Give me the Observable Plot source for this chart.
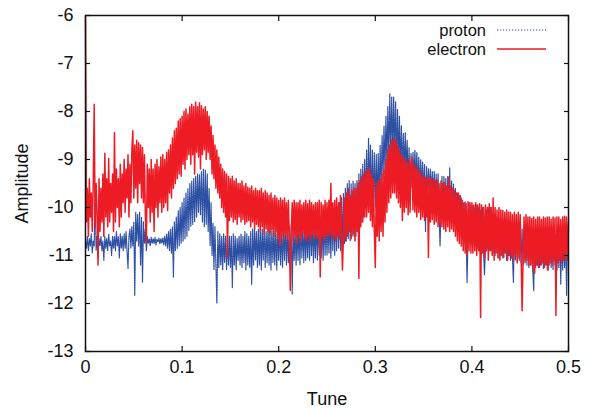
<!DOCTYPE html>
<html><head><meta charset="utf-8">
<script src="https://cdn.jsdelivr.net/npm/d3@7"></script>
<script src="https://cdn.jsdelivr.net/npm/@observablehq/plot@0.6"></script>
<style>
body{margin:0;background:#fff;}
#wrap{position:relative;width:594px;height:408px;}
</style></head><body><div id="wrap"></div>
<script>
// sampling grid of the spectra (tune step between samples)
const tuneStep = 0.001;

// electron amplitude, one value per sample, tune 0.000 .. 0.500
const electron = [
-6.1,-10.3,-9.6,-10.6,-9.4,-10.2,-9.7,-10.5,-9.5,-7.85,
-10.4,-9.5,-10.1,-11.2,-9.4,-10.5,-9.6,-10.3,-9.3,-10.6,
-8.87,-10.2,-9.4,-10.4,-8.98,-10.3,-9.5,-10.1,-9.3,-10.5,
-8.44,-10.3,-9.2,-10.0,-9.4,-10.4,-9.1,-10.2,-9.3,-9.9,
-9.0,-10.1,-9.2,-9.8,-8.9,-10.2,-9.1,-9.9,-8.8,-8.4,
-9.8,-8.7,-9.6,-8.6,-9.9,-8.65,-9.5,-8.7,-9.8,-8.75,
-9.9,-8.9,-10.2,-10.75,-9.1,-10.0,-9.2,-10.3,-9.0,-10.1,
-9.2,-10.5,-9.1,-10.0,-9.0,-10.2,-9.15,-9.9,-8.95,-10.1,
-8.9,-10.0,-9.0,-9.9,-8.85,-10.06,-8.8,-9.7,-8.7,-9.8,
-8.55,-9.6,-8.4,-9.5,-8.35,-9.4,-8.2,-9.3,-8.15,-9.35,
-8.1,-9.1,-8.0,-9.2,-7.95,-9.0,-8.05,-8.9,-7.9,-9.1,
-7.85,-8.9,-7.9,-9.3,-7.8,-8.85,-7.9,-8.95,-7.82,-9.2,
-7.88,-8.9,-7.95,-8.8,-7.9,-9.0,-8.0,-8.85,-8.1,-9.0,
-8.3,-9.3,-8.5,-9.4,-8.7,-9.6,-8.8,-9.7,-8.95,-9.8,
-9.1,-10.0,-9.2,-10.1,-9.25,-10.2,-9.3,-11.04,-9.35,-10.27,
-9.4,-10.2,-9.35,-10.3,-9.45,-10.25,-9.4,-10.35,-9.5,-10.2,
-9.5,-10.3,-9.45,-10.25,-9.55,-10.35,-9.5,-10.3,-9.58,-10.27,
-9.6,-10.4,-9.55,-10.3,-9.65,-10.45,-9.6,-10.35,-9.65,-10.4,
-9.65,-10.5,-9.6,-10.4,-9.7,-10.55,-9.65,-10.45,-9.7,-10.5,
-9.75,-10.55,-9.7,-10.45,-9.8,-10.6,-9.75,-10.5,-9.8,-10.65,
-9.85,-10.8,-9.8,-10.6,-9.85,-10.7,-9.8,-10.55,-9.9,-10.65,
-9.85,-10.6,-11.73,-10.5,-9.9,-10.7,-9.85,-10.6,-9.9,-10.75,
-9.9,-10.6,-9.85,-10.7,-9.95,-10.55,-9.9,-10.65,-9.85,-10.7,
-9.92,-10.6,-9.85,-10.7,-9.9,-10.55,-9.95,-10.65,-9.9,-10.6,
-9.9,-10.65,-9.85,-11.45,-9.9,-10.6,-9.95,-10.7,-9.85,-10.6,
-9.9,-10.6,-9.85,-10.55,-9.5,-10.65,-9.9,-10.6,-9.85,-10.7,
-9.8,-10.6,-9.9,-10.65,-9.75,-10.5,-11.3,-10.6,-9.8,-10.7,
-9.7,-10.6,-9.6,-10.5,-9.75,-10.65,-9.65,-10.55,-9.6,-10.7,
-9.6,-10.5,-9.5,-11.48,-9.45,-10.4,-9.35,-10.3,-9.3,-10.2,
-9.25,-10.2,-9.2,-10.1,-9.17,-10.27,-9.3,-10.4,-9.4,-10.5,
-11.25,-9.5,-10.6,-9.45,-10.7,-9.4,-10.5,-9.3,-10.6,-9.2,
-10.3,-9.0,-10.1,-8.8,-9.9,-8.7,-9.8,-8.6,-9.7,-8.54,
-9.7,-8.6,-9.8,-8.7,-9.9,-8.8,-10.0,-8.9,-10.27,-8.95,
-10.1,-9.0,-10.0,-9.05,-10.15,-9.0,-10.1,-9.1,-8.95,-10.05,
-9.1,-10.1,-9.15,-10.2,-9.2,-10.1,-9.25,-10.25,-9.3,-10.2,
-9.35,-10.27,-9.37,-10.2,-9.4,-11.04,-9.35,-10.3,-9.4,-10.25,
-9.4,-10.35,-9.45,-10.3,-9.42,-10.4,-9.5,-10.35,-9.45,-10.4,
-9.5,-10.45,-9.48,-10.5,-9.55,-10.4,-9.37,-10.5,-9.55,-10.45,
-9.6,-10.5,-9.65,-10.6,-9.7,-10.7,-9.7,-10.75,-9.75,-10.8,
-9.85,-10.9,-9.9,-10.95,-9.92,-11.0,-9.88,-10.9,-9.9,-10.95,
-9.9,-10.95,-9.95,-10.9,-9.9,-11.0,-9.95,-10.9,-9.92,-12.29,
-9.95,-10.95,-10.0,-11.05,-9.95,-10.9,-10.0,-11.1,-9.92,-10.9,
-10.0,-11.0,-9.8,-11.1,-10.0,-10.95,-10.05,-11.05,-10.0,-11.1,
-10.05,-11.0,-10.06,-11.04,-10.1,-10.95,-10.05,-11.1,-10.1,-11.0,
-10.1,-11.05,-10.15,-11.1,-10.1,-11.0,-10.15,-11.15,-10.1,-11.05,
-10.15,-11.1,-12.15,-11.05,-10.2,-11.15,-10.15,-11.1,-10.2,-11.2,
-10.2,-11.2,-10.23,-11.3,-10.2,-11.37,-10.25,-11.2,-10.2,-11.25,
-10.2,-11.2,-10.25,-11.15,-10.2,-11.25,-10.22,-11.2,-10.2,-11.3,
-10.2,-11.15,-10.25,-11.2,-10.2,-11.1,-10.22,-12.25,-10.2,-11.15,
-10.2,-11.1,-10.25,-11.15,-10.2,-11.1,-10.18,-11.05,-10.2,-11.1,
-10.3
];

// proton amplitude, one value per sample, tune 0.000 .. 0.500
const proton = [
-10.7,-10.85,-10.6,-10.9,-10.65,-10.8,-10.55,-10.95,-10.7,-10.8,
-9.54,-10.9,-10.6,-11.05,-10.65,-10.8,-10.6,-10.9,-10.7,-11.1,
-10.6,-10.85,-10.65,-10.9,-10.55,-10.8,-10.7,-11.0,-10.6,-10.85,
-10.6,-10.9,-10.5,-10.8,-10.6,-11.05,-10.55,-10.85,-10.6,-10.9,
-10.55,-10.85,-10.5,-10.9,-11.27,-10.6,-10.45,-10.85,-10.4,-10.8,
-10.3,-11.83,-10.1,-10.7,-10.15,-10.8,-10.1,-11.2,-10.2,-11.56,
-10.3,-10.75,-10.45,-10.9,-10.6,-10.75,-10.65,-10.8,-10.62,-10.75,
-10.65,-10.75,-10.62,-10.78,-10.66,-10.72,-10.64,-10.76,-10.65,-10.74,
-10.63,-10.78,-10.6,-10.8,-10.55,-10.85,-10.5,-10.9,-10.45,-10.95,
-10.4,-11.45,-10.3,-10.9,-10.2,-10.85,-10.06,-10.8,-10.0,-10.75,
-9.9,-10.7,-9.8,-10.65,-9.7,-10.6,-9.6,-10.48,-9.5,-10.4,
-9.45,-10.35,-9.4,-10.3,-9.35,-10.2,-9.3,-10.1,-9.32,-10.15,
-9.25,-10.3,-9.19,-10.4,-9.22,-10.35,-9.3,-10.5,-9.6,-10.8,
-9.9,-11.0,-10.33,-11.3,-10.4,-11.2,-12.0,-10.5,-11.25,-10.55,
-11.2,-10.6,-11.3,-10.55,-11.15,-10.6,-11.3,-10.65,-11.2,-10.6,
-11.25,-10.6,-11.67,-10.55,-11.2,-10.6,-11.3,-10.65,-11.1,-10.6,
-11.2,-10.55,-11.25,-10.6,-11.15,-10.5,-11.3,-10.55,-11.2,-10.6,
-11.25,-10.5,-11.6,-10.45,-11.2,-10.4,-11.1,-10.5,-11.25,-10.45,
-11.2,-10.4,-11.3,-10.45,-11.1,-10.4,-11.25,-10.5,-11.15,-10.4,
-11.2,-10.45,-11.3,-10.4,-11.15,-10.5,-11.2,-10.4,-11.3,-10.45,
-11.1,-10.4,-11.2,-10.45,-11.25,-10.4,-11.1,-10.35,-11.2,-10.45,
-11.15,-10.4,-11.2,-10.35,-11.8,-10.4,-11.1,-10.45,-11.2,-10.4,
-11.1,-10.35,-11.2,-10.3,-11.05,-10.4,-11.15,-10.3,-11.1,-10.35,
-11.05,-10.3,-11.1,-10.27,-11.0,-10.35,-11.15,-10.3,-11.05,-10.25,
-11.1,-10.3,-11.0,-10.25,-11.05,-10.3,-11.1,-10.2,-11.0,-10.3,
-11.0,-10.25,-10.95,-10.2,-11.05,-10.15,-10.9,-10.1,-11.0,-10.05,
-10.9,-10.0,-10.85,-9.9,-10.9,-9.8,-10.8,-9.7,-10.75,-9.6,
-10.7,-9.5,-10.65,-9.44,-10.7,-9.5,-10.6,-9.45,-10.6,-9.5,
-10.6,-9.44,-10.5,-9.3,-10.4,-9.2,-10.3,-9.1,-10.2,-9.0,
-10.0,-8.8,-9.9,-8.56,-9.8,-8.7,-9.9,-8.8,-10.0,-8.85,
-10.0,-8.9,-9.95,-8.87,-9.8,-8.7,-9.6,-8.5,-9.4,-8.3,
-9.3,-8.1,-9.1,-7.9,-9.0,-7.63,-8.9,-7.7,-8.88,-7.7,
-8.9,-7.8,-9.0,-7.95,-9.1,-8.1,-9.2,-8.3,-9.23,-8.46,
-9.23,-8.44,-9.3,-8.6,-9.5,-8.75,-9.8,-8.87,-9.6,-8.85,
-9.44,-8.8,-9.5,-8.85,-9.55,-8.95,-9.6,-9.0,-9.65,-9.05,
-9.7,-9.1,-10.5,-9.15,-9.7,-9.19,-9.75,-9.2,-9.7,-9.25,
-9.8,-9.25,-9.9,-9.3,-10.0,-9.3,-10.1,-10.8,-10.1,-9.35,
-10.2,-9.35,-10.25,-9.4,-10.2,-9.35,-10.27,-9.17,-10.2,-9.45,
-10.3,-9.5,-10.35,-9.6,-10.4,-9.7,-10.5,-9.75,-10.55,-9.8,
-10.6,-9.9,-10.55,-9.88,-10.6,-11.56,-10.6,-9.9,-10.65,-9.95,
-10.7,-9.95,-10.75,-10.0,-10.8,-9.95,-10.85,-10.0,-10.8,-10.05,
-10.9,-10.0,-10.85,-11.4,-10.9,-10.05,-10.85,-10.0,-10.9,-10.0,
-10.9,-10.3,-10.95,-10.25,-11.0,-10.3,-10.95,-10.35,-11.05,-10.3,
-11.0,-10.35,-11.05,-10.4,-10.95,-10.35,-11.1,-10.4,-11.0,-10.45,
-11.1,-10.4,-11.05,-11.56,-10.45,-11.1,-10.4,-11.15,-10.45,-11.1,
-10.5,-11.15,-10.45,-11.2,-10.5,-11.1,-10.45,-11.2,-10.5,-11.25,
-10.5,-11.2,-10.55,-11.3,-11.73,-10.5,-11.25,-10.55,-11.2,-10.5,
-11.25,-10.55,-11.2,-10.5,-11.27,-10.55,-11.2,-10.5,-11.3,-10.55,
-11.2,-10.5,-11.25,-10.55,-11.3,-10.5,-11.2,-10.55,-11.3,-10.5,
-11.25,-10.55,-11.6,-10.5,-11.3,-10.55,-11.25,-10.5,-11.83,-10.6,
-11.1
];

const xTicks = [0, 0.1, 0.2, 0.3, 0.4, 0.5];
const yTicks = [-13, -12, -11, -10, -9, -8, -7, -6];
const seriesNames = ["proton", "electron"];
const seriesColors = ["#2c4fa3", "#ed1c24"];

const protonData = proton.map((v, i) => ({tune: i * tuneStep, amp: v}));
const electronData = electron.map((v, i) => ({tune: i * tuneStep, amp: v}));

const font = "'Liberation Sans', Arial, Helvetica, sans-serif";
const fmt = d => String(d);

const chart = Plot.plot({
  width: 594,
  height: 408,
  marginLeft: 85,
  marginRight: 26,
  marginTop: 15,
  marginBottom: 57,
  style: {fontFamily: font, fontSize: "18px", color: "#111", background: "#fff", overflow: "visible"},
  x: {domain: [0, 0.5]},
  y: {domain: [-13, -6]},
  marks: [
    Plot.line(protonData, {x: "tune", y: "amp", stroke: seriesColors[0], strokeWidth: 1.2, strokeDasharray: "1.5,1"}),
    Plot.line(electronData, {x: "tune", y: "amp", stroke: seriesColors[1], strokeWidth: 1.5}),
    // labels
    Plot.axisX({ticks: xTicks, tickSize: 0, tickPadding: 9, tickFormat: fmt, label: "Tune", labelAnchor: "center", labelOffset: 53, labelArrow: "none"}),
    Plot.axisY({ticks: yTicks, tickSize: 0, tickPadding: 12, tickFormat: fmt, label: "Amplitude", labelAnchor: "center", labelOffset: 70, labelArrow: "none"}),
    // inward ticks on all four sides
    Plot.axisX({anchor: "bottom", ticks: xTicks, tickSize: -5, tickFormat: () => "", label: null, strokeWidth: 1.2}),
    Plot.axisX({anchor: "top", ticks: xTicks, tickSize: -5, tickFormat: () => "", label: null, strokeWidth: 1.2}),
    Plot.axisY({anchor: "left", ticks: yTicks, tickSize: -5, tickFormat: () => "", label: null, strokeWidth: 1.2}),
    Plot.axisY({anchor: "right", ticks: yTicks, tickSize: -5, tickFormat: () => "", label: null, strokeWidth: 1.2}),
    Plot.frame({stroke: "#111", strokeWidth: 1.5})
  ]
});

document.getElementById("wrap").appendChild(chart);

// legend (top-right, inside the frame)
const svg = d3.select(chart);
const lg = svg.append("g").attr("font-family", font).attr("font-size", 16.5).attr("fill", "#111");
seriesNames.forEach((name, i) => {
  const cy = 30 + i * 19;
  lg.append("text").attr("x", 486).attr("y", cy).attr("dy", "0.35em").attr("text-anchor", "end").text(name);
  const ln = lg.append("line").attr("x1", 497).attr("x2", 546).attr("y1", cy).attr("y2", cy)
    .style("stroke", seriesColors[i]).style("stroke-width", i === 0 ? 1.2 : 1.4);
  if (i === 0) ln.style("stroke-dasharray", "1.2,1.8");
});
</script>
</body></html>
